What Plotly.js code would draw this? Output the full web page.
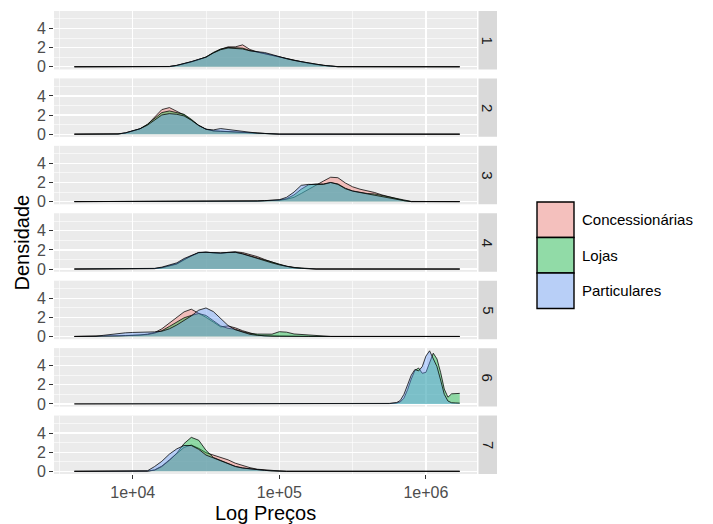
<!DOCTYPE html>
<html>
<head>
<meta charset="utf-8">
<script src="https://cdn.plot.ly/plotly-3.0.1.min.js"></script>
<style>
  html, body { margin: 0; padding: 0; background: #ffffff; }
  #grafico { width: 713px; height: 524px; }
</style>
</head>
<body>
<div id="grafico"></div>
<script>
// Densidades (por década de preço) de cada tipo de vendedor, por grupo 1..7.
// Cada grupo tem uma grade de preços; os extremos 4000 e 1 700 000 são o
// mínimo e o máximo dos preços observados (a densidade vale 0 fora do suporte).

const grupos = ['Concessionárias', 'Lojas', 'Particulares'];
const paineis = ['1', '2', '3', '4', '5', '6', '7'];

// Grupo 1
const precos1 = [4000, 15800, 17800, 20000, 22400, 25100, 28200, 31600, 35500, 39800, 44700, 50100,
  56200, 63100, 70800, 79400, 89100, 100000, 112000, 126000, 141000, 158000, 178000, 200000, 224000, 251000, 1700000];
const conc1  = [0, 0, 0.02, 0.13, 0.30, 0.50, 0.74, 1.00, 1.45, 1.82, 2.08, 2.08, 2.29, 1.80, 1.55, 1.38, 1.20, 0.98, 0.82, 0.65, 0.50, 0.36, 0.23, 0.13, 0.06, 0, 0];
const lojas1 = [0, 0, 0.02, 0.14, 0.31, 0.52, 0.76, 1.02, 1.50, 1.86, 2.02, 1.96, 1.95, 1.70, 1.52, 1.37, 1.22, 1.02, 0.85, 0.68, 0.53, 0.40, 0.26, 0.15, 0.08, 0.02, 0];
const part1  = [0, 0, 0.03, 0.15, 0.33, 0.54, 0.78, 1.00, 1.44, 1.78, 1.96, 1.90, 1.86, 1.66, 1.56, 1.49, 1.28, 1.04, 0.84, 0.66, 0.52, 0.38, 0.24, 0.14, 0.07, 0.01, 0];

// Grupo 2
const precos2 = [4000, 7940, 8910, 10000, 11200, 12600, 14100, 15800, 17800, 20000, 22400, 25100, 28200,
  31600, 35500, 39800, 44700, 50100, 56200, 63100, 70800, 79400, 89100, 100000, 1700000];
const conc2  = [0, 0.02, 0.12, 0.33, 0.55, 1.00, 1.74, 2.57, 2.78, 2.43, 2.01, 1.48, 0.92, 0.52, 0.34, 0.30, 0.27, 0.23, 0.20, 0.13, 0.10, 0.06, 0.03, 0, 0];
const lojas2 = [0, 0.02, 0.13, 0.34, 0.56, 1.04, 1.67, 2.26, 2.43, 2.29, 2.08, 1.56, 0.92, 0.52, 0.35, 0.31, 0.28, 0.24, 0.21, 0.14, 0.10, 0.07, 0.03, 0, 0];
const part2  = [0, 0.03, 0.14, 0.35, 0.57, 0.94, 1.46, 2.01, 2.15, 2.08, 1.91, 1.46, 0.90, 0.52, 0.45, 0.59, 0.49, 0.38, 0.28, 0.16, 0.11, 0.07, 0.04, 0.01, 0];

// Grupo 3
const precos3 = [4000, 63100, 70800, 79400, 89100, 100000, 112000, 126000, 141000, 158000, 178000, 200000,
  224000, 251000, 282000, 316000, 355000, 398000, 447000, 501000, 562000, 631000, 708000, 794000, 1700000];
const conc3  = [0, 0, 0.06, 0.09, 0.10, 0.14, 0.25, 0.45, 0.85, 1.30, 1.70, 2.15, 2.55, 2.50, 1.95, 1.55, 1.30, 1.15, 0.95, 0.70, 0.50, 0.27, 0.10, 0, 0];
const lojas3 = [0, 0, 0.06, 0.10, 0.10, 0.17, 0.30, 0.70, 1.30, 1.75, 1.85, 1.85, 2.00, 1.85, 1.40, 1.12, 0.98, 0.85, 0.80, 0.65, 0.50, 0.30, 0.15, 0.02, 0];
const part3  = [0, 0.01, 0.07, 0.10, 0.17, 0.20, 0.45, 1.00, 1.70, 1.80, 1.78, 1.80, 2.00, 1.80, 1.35, 1.10, 0.95, 0.80, 0.70, 0.55, 0.40, 0.25, 0.10, 0, 0];

// Grupo 4
const precos4 = [4000, 12600, 14100, 15800, 17800, 20000, 22400, 25100, 28200, 31600, 35500, 39800, 44700,
  50100, 56200, 63100, 70800, 79400, 89100, 100000, 112000, 126000, 141000, 158000, 178000, 1700000];
const conc4  = [0, 0, 0.04, 0.13, 0.32, 0.52, 0.95, 1.38, 1.70, 1.76, 1.70, 1.67, 1.74, 1.80, 1.72, 1.50, 1.30, 1.00, 0.70, 0.47, 0.28, 0.14, 0.07, 0.04, 0, 0];
const lojas4 = [0, 0, 0.05, 0.15, 0.35, 0.55, 1.00, 1.40, 1.72, 1.76, 1.70, 1.66, 1.72, 1.76, 1.60, 1.38, 1.18, 0.94, 0.68, 0.47, 0.30, 0.16, 0.09, 0.05, 0.01, 0];
const part4  = [0, 0.01, 0.07, 0.20, 0.42, 0.65, 1.10, 1.45, 1.74, 1.75, 1.68, 1.67, 1.74, 1.75, 1.58, 1.33, 1.12, 0.88, 0.64, 0.44, 0.27, 0.13, 0.07, 0.04, 0, 0];

// Grupo 5
const precos5 = [4000, 5010, 5620, 6310, 7080, 7940, 8910, 10000, 11200, 12600, 14100, 15800, 17800, 20000,
  22400, 25100, 28200, 31600, 35500, 39800, 44700, 50100, 56200, 63100, 70800, 79400, 89100, 100000,
  112000, 126000, 141000, 158000, 178000, 200000, 224000, 1700000];
const conc5  = [0, 0, 0, 0.02, 0.04, 0.07, 0.10, 0.12, 0.14, 0.25, 0.40, 0.80, 1.40, 2.05, 2.57, 2.85, 2.45, 2.00,
  1.50, 1.00, 1.10, 0.90, 0.60, 0.35, 0.15, 0.06, 0.04, 0.03, 0.02, 0.01, 0, 0, 0, 0, 0, 0];
const lojas5 = [0, 0, 0, 0.02, 0.04, 0.06, 0.08, 0.10, 0.13, 0.20, 0.35, 0.60, 1.05, 1.55, 1.95, 2.20, 2.40, 2.20,
  1.65, 1.10, 0.85, 0.75, 0.50, 0.32, 0.25, 0.22, 0.24, 0.50, 0.45, 0.26, 0.22, 0.20, 0.10, 0.04, 0, 0];
const part5  = [0, 0, 0.02, 0.12, 0.22, 0.30, 0.38, 0.42, 0.42, 0.44, 0.48, 0.55, 0.80, 1.20, 1.65, 2.15, 2.75, 2.98,
  2.60, 1.90, 1.15, 0.70, 0.42, 0.22, 0.12, 0.06, 0.03, 0.02, 0.01, 0, 0, 0, 0, 0, 0, 0];

// Grupo 6 (sem anúncios de concessionárias)
const precos6 = [4000, 501000, 562000, 631000, 668000, 708000, 750000, 794000, 841000, 891000, 944000, 1000000,
  1059000, 1122000, 1189000, 1259000, 1334000, 1413000, 1496000, 1585000, 1700000];
const conc6  = [];
const lojas6 = [0, 0, 0.03, 0.10, 0.20, 0.60, 1.50, 2.60, 3.50, 3.75, 3.20, 3.30, 4.30, 5.30, 4.70, 3.30, 1.55, 0.70, 1.05, 1.10, 1.10];
const part6  = [0, 0, 0.05, 0.14, 0.35, 1.00, 2.10, 3.00, 3.60, 3.45, 3.90, 5.00, 5.55, 4.80, 3.90, 2.50, 1.00, 0.30, 0.12, 0.10, 0.08];

// Grupo 7
const precos7 = [4000, 12600, 14100, 15800, 17800, 20000, 22400, 25100, 28200, 31600, 35500, 39800, 44700,
  50100, 56200, 63100, 70800, 79400, 89100, 100000, 112000, 1700000];
const conc7  = [0, 0.02, 0.15, 0.55, 1.20, 1.85, 2.50, 2.75, 2.40, 1.95, 1.70, 1.45, 1.20, 0.85, 0.58, 0.38, 0.22, 0.14, 0.08, 0.04, 0, 0];
const lojas7 = [0, 0.02, 0.12, 0.50, 1.15, 1.90, 2.90, 3.55, 3.25, 2.20, 1.45, 1.12, 0.82, 0.52, 0.36, 0.25, 0.15, 0.10, 0.05, 0.02, 0, 0];
const part7  = [0, 0.05, 0.50, 1.05, 1.80, 2.35, 2.70, 2.70, 2.30, 1.70, 1.40, 1.10, 0.80, 0.50, 0.34, 0.24, 0.15, 0.10, 0.05, 0.02, 0, 0];

const precos = [precos1, precos2, precos3, precos4, precos5, precos6, precos7];
const densidades = [
  [conc1, lojas1, part1], [conc2, lojas2, part2], [conc3, lojas3, part3], [conc4, lojas4, part4],
  [conc5, lojas5, part5], [conc6, lojas6, part6], [conc7, lojas7, part7]
];

// Estilo
const coresBase = ['248,118,109', '0,186,56', '97,156,255'];
const alfa = 0.4;
const fonte = 'Liberation Sans, Arial, sans-serif';

// Geometria dos painéis (em px dentro da área de plotagem)
const margem = { l: 54, r: 236, t: 11, b: 50 };
const larguraArea = 713 - margem.l - margem.r;
const alturaArea = 524 - margem.t - margem.b;
const alturaPainel = 58.5, espaco = 9.0;
const totalPx = 7 * alturaPainel + 6 * espaco;

function dominio(i) {
  const topo = i * (alturaPainel + espaco);
  const base = topo + alturaPainel;
  return [1 - base / totalPx, 1 - topo / totalPx];
}

const traces = [];
const layout = {
  width: 713, height: 524,
  margin: margem,
  paper_bgcolor: '#FFFFFF',
  plot_bgcolor: '#EBEBEB',
  showlegend: false,
  hovermode: false,
  font: { family: fonte },
  shapes: [],
  annotations: []
};

const limiteX = [Math.log10(2905), Math.log10(2230000)];
const limiteY = [-0.28, 5.83];

for (let i = 0; i < 7; i++) {
  const sfx = i === 0 ? '' : String(i + 1);
  const dom = dominio(i);
  const ultimo = i === 6;

  layout['xaxis' + sfx] = {
    type: 'log', range: limiteX, domain: [0, 1], anchor: 'y' + sfx,
    tickmode: 'array', tickvals: [1e4, 1e5, 1e6], ticktext: ['1e+04', '1e+05', '1e+06'],
    showticklabels: ultimo, ticks: ultimo ? 'outside' : '', ticklen: 4, tickwidth: 1, tickcolor: '#333333',
    tickfont: { family: fonte, size: 16, color: '#4D4D4D' },
    showgrid: true, gridcolor: '#FFFFFF', gridwidth: 1.3,
    minor: { tickmode: 'array', tickvals: [3162.3, 31623, 316228], showgrid: true, gridcolor: '#FFFFFF', gridwidth: 0.6, ticks: '' },
    zeroline: false, showline: false, fixedrange: true
  };
  if (i > 0) layout['xaxis' + sfx].matches = 'x';

  layout['yaxis' + sfx] = {
    range: limiteY, domain: dom, anchor: 'x' + sfx,
    tickmode: 'array', tickvals: [0, 2, 4], ticktext: ['0', '2', '4'],
    ticks: 'outside', ticklen: 4, tickwidth: 1, tickcolor: '#333333',
    tickfont: { family: fonte, size: 16, color: '#4D4D4D' },
    showgrid: true, gridcolor: '#FFFFFF', gridwidth: 1.3,
    minor: { tickmode: 'array', tickvals: [1, 3, 5], showgrid: true, gridcolor: '#FFFFFF', gridwidth: 0.6, ticks: '' },
    zeroline: false, showline: false, fixedrange: true
  };

  // Densidades de cada tipo de vendedor
  for (let g = 0; g < 3; g++) {
    const y = densidades[i][g];
    if (!y.length) continue;
    traces.push({
      type: 'scatter', mode: 'lines', name: grupos[g],
      x: precos[i], y: y,
      xaxis: 'x' + sfx, yaxis: 'y' + sfx,
      fill: 'tozeroy', fillcolor: 'rgba(' + coresBase[g] + ',' + alfa + ')',
      line: { color: 'rgba(0,0,0,0.85)', width: 0.9 },
      hoverinfo: 'skip'
    });
  }

  // Faixa lateral com o número do grupo
  const x0 = (478.5 - margem.l) / larguraArea, x1 = (497 - margem.l) / larguraArea;
  layout.shapes.push({
    type: 'rect', xref: 'paper', yref: 'paper', x0: x0, x1: x1, y0: dom[0], y1: dom[1],
    fillcolor: '#D9D9D9', line: { width: 0 }, layer: 'below'
  });
  layout.annotations.push({
    xref: 'paper', yref: 'paper', x: (x0 + x1) / 2, y: (dom[0] + dom[1]) / 2,
    text: paineis[i], textangle: 90, showarrow: false,
    font: { family: fonte, size: 15, color: '#1A1A1A' },
    xanchor: 'center', yanchor: 'middle'
  });
}

// Títulos dos eixos
layout.annotations.push({
  xref: 'paper', yref: 'paper', x: (265.5 - margem.l) / larguraArea, y: -(513 - (524 - margem.b)) / alturaArea,
  text: 'Log Preços', showarrow: false, font: { family: fonte, size: 20, color: '#000000' },
  xanchor: 'center', yanchor: 'middle'
});
layout.annotations.push({
  xref: 'paper', yref: 'paper', x: (21 - margem.l) / larguraArea, y: 0.5,
  text: 'Densidade', textangle: -90, showarrow: false, font: { family: fonte, size: 20, color: '#000000' },
  xanchor: 'center', yanchor: 'middle'
});

// Legenda
const chaveX0 = (537 - margem.l) / larguraArea, chaveX1 = (574 - margem.l) / larguraArea;
const chavesY = [202, 237.5, 273, 308.5];
const py = v => ((524 - margem.b) - v) / alturaArea;
for (let g = 0; g < 3; g++) {
  const y0 = py(chavesY[g + 1]), y1 = py(chavesY[g]);
  layout.shapes.push({
    type: 'rect', xref: 'paper', yref: 'paper', x0: chaveX0, x1: chaveX1, y0: y0, y1: y1,
    fillcolor: '#F2F2F2', line: { width: 0 }
  });
  layout.shapes.push({
    type: 'rect', xref: 'paper', yref: 'paper', x0: chaveX0, x1: chaveX1, y0: y0, y1: y1,
    fillcolor: 'rgba(' + coresBase[g] + ',' + alfa + ')', line: { color: '#000000', width: 1.4 }
  });
  layout.annotations.push({
    xref: 'paper', yref: 'paper', x: (580 - margem.l) / larguraArea, y: (y0 + y1) / 2,
    text: grupos[g], showarrow: false, font: { family: fonte, size: 15, color: '#000000' },
    xanchor: 'left', yanchor: 'middle'
  });
}

Plotly.newPlot('grafico', traces, layout, { staticPlot: true, displayModeBar: false });
</script>
</body>
</html>
